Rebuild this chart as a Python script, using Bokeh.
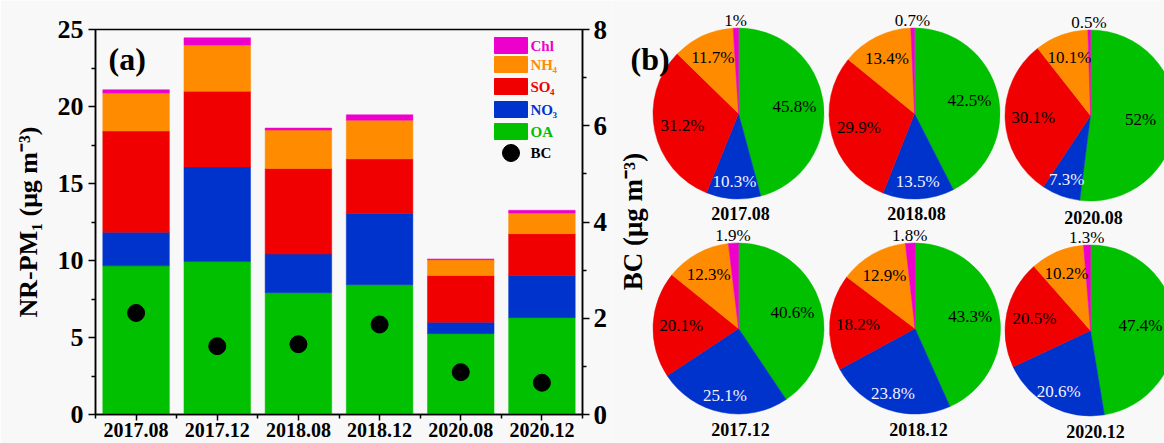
import math

from bokeh.core.properties import value
from bokeh.embed import file_html
from bokeh.layouts import row
from bokeh.models import ColumnDataSource, FixedTicker, LinearAxis, Range1d
from bokeh.plotting import figure
from bokeh.resources import INLINE

# ---------------------------------------------------------------- data
periods = ["2017.08", "2017.12", "2018.08", "2018.12", "2020.08", "2020.12"]
species = ["OA", "NO3", "SO4", "NH4", "Chl"]

# NR-PM1 species mass concentrations (ug m-3), one value per period
oa = [9.66, 9.93, 7.91, 8.43, 5.25, 6.29]
no3 = [2.17, 6.14, 2.51, 4.63, 0.74, 2.73]
so4 = [6.58, 4.92, 5.56, 3.54, 3.04, 2.72]
nh4 = [2.47, 3.01, 2.49, 2.51, 1.02, 1.35]
chl = [0.21, 0.46, 0.13, 0.35, 0.05, 0.17]

# black carbon (ug m-3), right axis
bc = [2.11, 1.42, 1.46, 1.87, 0.88, 0.66]

# mass fractions (%) in the order OA, NO3, SO4, NH4, Chl
frac_2017_08 = [45.8, 10.3, 31.2, 11.7, 1]
frac_2017_12 = [40.6, 25.1, 20.1, 12.3, 1.9]
frac_2018_08 = [42.5, 13.5, 29.9, 13.4, 0.7]
frac_2018_12 = [43.3, 23.8, 18.2, 12.9, 1.8]
frac_2020_08 = [52, 7.3, 30.1, 10.1, 0.5]
frac_2020_12 = [47.4, 20.6, 20.5, 10.2, 1.3]

left_ticks = [0, 5, 10, 15, 20, 25]
right_ticks = [0, 2, 4, 6, 8]

# ---------------------------------------------------------------- style
FONT = "Liberation Serif"
BG = "#f8f8f8"
COLORS = {"OA": "#00C000", "NO3": "#0033CC", "SO4": "#F00000",
          "NH4": "#FF8C00", "Chl": "#EE00CC"}
H = 443

# ---------------------------------------------------------------- (a) bars
W1 = 612
FL, FR, FT, FB = 95, 582, 29, 414  # frame edges in canvas pixels

p = figure(width=W1, height=H, x_range=Range1d(-0.5, len(periods) - 0.5),
           y_range=Range1d(0, 25), output_backend="svg", toolbar_location=None,
           min_border_left=FL, min_border_right=W1 - FR,
           min_border_top=FT, min_border_bottom=H - FB,
           background_fill_color=BG, border_fill_color=BG)
p.frame_align = False
p.xgrid.visible = False
p.ygrid.visible = False
p.outline_line_color = "black"
p.outline_line_width = 1.5

xs = list(range(len(periods)))
p.xaxis.ticker = FixedTicker(ticks=xs, minor_ticks=[i - 0.5 for i in range(len(periods) + 1)])
p.xaxis.major_label_overrides = {i: lab for i, lab in enumerate(periods)}
p.yaxis.ticker = FixedTicker(ticks=left_ticks, minor_ticks=[t + 2.5 for t in left_ticks[:-1]])
p.yaxis.axis_label = "NR-PM\u2081 (\u03bcg m\u207b\u00b3)"

p.extra_y_ranges = {"bc": Range1d(0, 8)}
right_axis = LinearAxis(y_range_name="bc",
                        ticker=FixedTicker(ticks=right_ticks,
                                           minor_ticks=[t + 1 for t in right_ticks[:-1]]))
p.add_layout(right_axis, "right")

for ax in p.axis:
    ax.axis_line_width = 1.5
    ax.major_tick_line_width = 1.5
    ax.minor_tick_line_width = 1.5
    ax.major_tick_in = 0
    ax.minor_tick_in = 0
    ax.major_tick_out = 7
    ax.minor_tick_out = 4
    ax.major_label_text_font = FONT
    ax.major_label_text_font_style = "bold"
    ax.major_label_text_color = "black"
    ax.axis_label_text_font = FONT
    ax.axis_label_text_font_style = "bold"
    ax.axis_label_text_font_size = "26px"
    ax.axis_label_text_color = "black"

p.xaxis.major_label_text_font_size = "20px"
p.xaxis.major_tick_out = 6
p.xaxis.major_label_standoff = 2
p.yaxis.major_label_text_font_size = "26px"
p.yaxis.major_label_standoff = 5
p.yaxis.axis_label_standoff = 12
right_axis.major_label_text_font_size = "27px"
right_axis.major_label_standoff = 4

bar_src = ColumnDataSource(dict(x=xs, OA=oa, NO3=no3, SO4=so4, NH4=nh4, Chl=chl))
p.vbar_stack(species, x="x", width=0.82, source=bar_src,
             fill_color=[COLORS[s] for s in species],
             line_color=[COLORS[s] for s in species], line_width=0.5)
p.scatter(xs, bc, y_range_name="bc", size=17, color="black")


def px_x(px):
    return -0.5 + (px - FL) / (FR - FL) * len(periods)


def px_y(py):
    return (FB - py) / (FB - FT) * 25


p.text(x=[px_x(108)], y=[px_y(58)], text=["(a)"], text_font=value(FONT),
       text_font_style="bold", text_font_size="32px", text_baseline="middle",
       text_color="black")

# legend: colour boxes with coloured names, subscripts drawn smaller
legend_rows = [("Chl", "", 37, 53), ("NH", "4", 56, 72), ("SO", "4", 78, 94),
               ("NO", "3", 101, 117), ("OA", "", 123, 139)]
legend_keys = ["Chl", "NH4", "SO4", "NO3", "OA"]
main_w = {"Chl": 23, "NH": 22, "SO": 19.5, "NO": 22, "OA": 22}
for key, (name, sub, top, bot) in zip(legend_keys, legend_rows):
    col = COLORS[key]
    p.quad(left=[px_x(494)], right=[px_x(527)], top=[px_y(top)], bottom=[px_y(bot)],
           fill_color=col, line_color=col)
    mid = (top + bot) / 2
    p.text(x=[px_x(530)], y=[px_y(mid)], text=[name], text_font=value(FONT),
           text_font_style="bold", text_font_size="15px", text_baseline="middle",
           text_color=col)
    if sub:
        p.text(x=[px_x(530 + main_w[name])], y=[px_y(mid + 5)], text=[sub],
               text_font=value(FONT), text_font_style="bold", text_font_size="9px",
               text_baseline="middle", text_color=col)
p.scatter([px_x(510.5)], [px_y(152.5)], size=17, color="black")
p.text(x=[px_x(530)], y=[px_y(152.5)], text=["BC"], text_font=value(FONT),
       text_font_style="bold", text_font_size="15px", text_baseline="middle",
       text_color="black")

# ---------------------------------------------------------------- (b) pies
X0 = W1
W2 = 1164 - W1
q = figure(width=W2, height=H, x_range=Range1d(X0, X0 + W2), y_range=Range1d(0, H),
           x_axis_type=None, y_axis_type=None, min_border=0, outline_line_color=None,
           output_backend="svg", toolbar_location=None,
           background_fill_color=BG, border_fill_color=BG)
q.frame_align = False
q.grid.visible = False

pies = [
    ("2017.08", frac_2017_08, (738, 113), (740, 213)),
    ("2018.08", frac_2018_08, (914, 113), (916, 213)),
    ("2020.08", frac_2020_08, (1090, 115), (1093, 217)),
    ("2017.12", frac_2017_12, (738, 328), (740, 429)),
    ("2018.12", frac_2018_12, (914.5, 328), (918, 429)),
    ("2020.12", frac_2020_12, (1090, 330), (1095, 431)),
]
R = 85.5
label_r = {"OA": 0.66, "NO3": 0.80, "SO4": 0.67, "NH4": 0.72}
label_c = {"OA": "black", "NO3": "#f2f2ff", "SO4": "black", "NH4": "black"}

wx, wy, ws, we, wc = [], [], [], [], []
tx, ty, tt, tc = [], [], [], []
for name, fracs, (cx, cy_img), (lx, ly_img) in pies:
    cy = H - cy_img
    acc = 0.0
    for s, f in zip(species, fracs):
        a0, a1 = acc / 100, (acc + f) / 100
        acc += f
        wx.append(cx)
        wy.append(cy)
        ws.append(math.pi / 2 - 2 * math.pi * a1)
        we.append(math.pi / 2 - 2 * math.pi * a0)
        wc.append(COLORS[s])
        mid = math.pi / 2 - math.pi * (a0 + a1)
        rr = R + 8 if s == "Chl" else R * label_r[s]
        # keep labels inside the canvas at the right edge
        tx.append(min(cx + rr * math.cos(mid), X0 + W2 - 24))
        ty.append(cy + rr * math.sin(mid))
        tt.append(f"{f:g}%")
        tc.append("black" if s == "Chl" else label_c[s])
    q.text(x=[lx], y=[H - ly_img], text=[name], text_font=value(FONT),
           text_font_style="bold", text_font_size="18px", text_align="center",
           text_baseline="middle", text_color="black")

q.wedge(x=wx, y=wy, radius=R, start_angle=ws, end_angle=we, direction="anticlock",
        fill_color=wc, line_color=wc, line_width=0.5)
q.text(x=tx, y=ty, text=tt, text_color=tc, text_font=value(FONT),
       text_font_size="17px", text_align="center", text_baseline="middle")

q.text(x=[632], y=[H - 221], text=["BC (\u03bcg m\u207b\u00b3)"], angle=math.pi / 2,
       text_font=value(FONT), text_font_style="bold", text_font_size="27px",
       text_align="center", text_baseline="middle", text_color="black")
q.text(x=[630], y=[H - 58], text=["(b)"], text_font=value(FONT),
       text_font_style="bold", text_font_size="32px", text_baseline="middle",
       text_color="black")

layout = row(p, q, spacing=0)
open("out.html", "w").write(file_html(layout, INLINE))
